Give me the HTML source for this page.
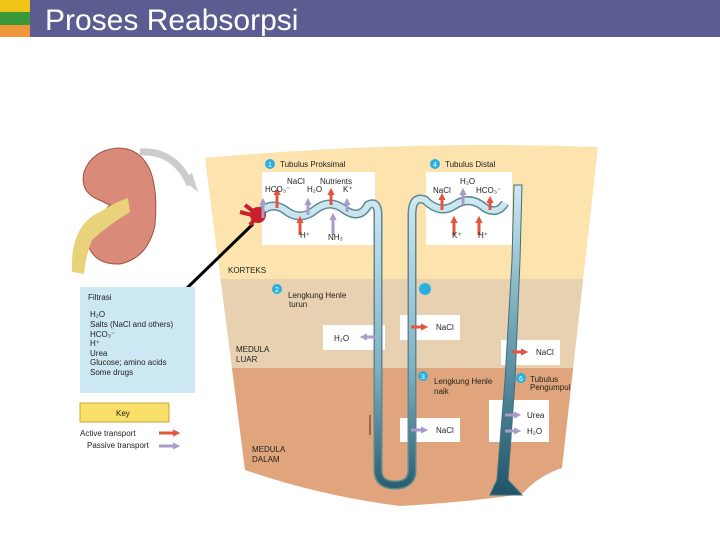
<!DOCTYPE html>
<html><head><meta charset="utf-8"><style>
body{margin:0;width:720px;height:540px;overflow:hidden;background:#fff;font-family:"Liberation Sans",sans-serif}
</style></head><body>
<svg width="720" height="540" viewBox="0 0 720 540" xmlns="http://www.w3.org/2000/svg" font-family="Liberation Sans, sans-serif">
<rect x="0" y="0" width="30" height="12" fill="#f0c419"/>
<rect x="0" y="12" width="30" height="13" fill="#3a9a3a"/>
<rect x="0" y="25" width="30" height="12" fill="#f0963a"/>
<rect x="30" y="0" width="690" height="37" fill="#5b5c8f"/>
<text x="45" y="30" font-size="30" fill="#fff">Proses Reabsorpsi</text>

<defs>
<clipPath id="c"><path d="M205,158 Q400,140 598,147 L562,468 Q538,476 522,494 Q470,502 400,506 Q320,496 245,470 Z"/></clipPath>
<linearGradient id="cd" x1="0" y1="0" x2="0" y2="1"><stop offset="0" stop-color="#cfe8f0"/><stop offset="0.5" stop-color="#6a9fb0"/><stop offset="1" stop-color="#1f5468"/></linearGradient>
<linearGradient id="lp" x1="0" y1="0" x2="0" y2="1"><stop offset="0" stop-color="#cfe8f0"/><stop offset="0.6" stop-color="#7fb0c0"/><stop offset="1" stop-color="#2c6070"/></linearGradient>
<marker id="r" markerWidth="2.4" markerHeight="2.4" refX="1" refY="1.2" orient="auto" markerUnits="strokeWidth"><path d="M0,0 L2.4,1.2 L0,2.4Z" fill="#e2553f"/></marker>
<marker id="p" markerWidth="2.4" markerHeight="2.4" refX="1" refY="1.2" orient="auto" markerUnits="strokeWidth"><path d="M0,0 L2.4,1.2 L0,2.4Z" fill="#a99cc8"/></marker>
</defs>
<g clip-path="url(#c)">
<rect x="200" y="140" width="400" height="139" fill="#fde3ad"/>
<rect x="200" y="279" width="400" height="89" fill="#e8d1b0"/>
<rect x="200" y="368" width="400" height="150" fill="#e0a57c"/>
</g>
<!-- kidney -->
<path d="M118,148 Q92,150 84,172 Q80,190 95,198 L110,205 Q88,225 88,245 Q95,265 120,264 Q148,258 155,225 Q158,190 150,170 Q140,148 118,148Z" fill="#d98a78" stroke="#a04f40"/>
<path d="M72,272 Q70,225 100,212 Q115,202 128,198 L130,212 Q108,225 92,240 Q86,255 84,274Z" fill="#e8d27a"/>
<path d="M140,152 Q175,150 190,185" stroke="#ccc" stroke-width="7" fill="none"/>
<path d="M183,180 L198,192 L192,173Z" fill="#ccc"/>
<line x1="253" y1="224" x2="185" y2="290" stroke="#000" stroke-width="3"/>
<!-- white boxes -->
<g fill="#fff">
<rect x="262" y="172" width="113" height="73"/>
<rect x="426" y="172" width="86" height="73"/>
<rect x="323" y="325" width="62" height="25"/>
<rect x="400" y="315" width="60" height="25"/>
<rect x="501" y="340" width="59" height="25"/>
<rect x="489" y="400" width="60" height="42"/>
<rect x="400" y="418" width="60" height="24"/>
</g>
<!-- tubules -->
<path d="M258,215 Q270,200 285,210 Q300,222 315,210 Q330,198 345,210 Q360,220 368,205 Q378,200 378,215 L378,470 Q378,485 395,485 Q412,485 412,470 L412,215 Q412,195 425,200 Q440,215 455,205 Q470,195 485,208 Q498,215 505,203" stroke="#5a8898" stroke-width="9" fill="none"/>
<path d="M258,215 Q270,200 285,210 Q300,222 315,210 Q330,198 345,210 Q360,220 368,205 Q378,200 378,215 L378,470 Q378,485 395,485 Q412,485 412,470 L412,215 Q412,195 425,200 Q440,215 455,205 Q470,195 485,208 Q498,215 505,203" stroke="url(#lp)" stroke-width="6" fill="none"/>
<path d="M514,185 L522,185 L520,260 L515,380 L508,480 L522,495 L490,495 L497,480 L505,380 L512,260Z" fill="url(#cd)" stroke="#3f6f80" stroke-width="1"/>
<circle cx="258" cy="215" r="8" fill="#c8202a"/>
<path d="M245,205 L258,215 L250,225 M240,212 L256,216" stroke="#c8202a" stroke-width="4" fill="none"/>
<!-- arrows -->
<g stroke-width="3">
<g stroke="#e2553f" marker-end="url(#r)">
<line x1="277" y1="208" x2="277" y2="192"/><line x1="331" y1="205" x2="331" y2="192"/>
<line x1="300" y1="235" x2="300" y2="220"/>
<line x1="442" y1="210" x2="442" y2="197"/><line x1="454" y1="235" x2="454" y2="220"/>
<line x1="479" y1="235" x2="479" y2="220"/><line x1="490" y1="210" x2="490" y2="200"/>
<line x1="411" y1="327" x2="424" y2="327"/>
<line x1="512" y1="352" x2="524" y2="352"/>
</g>
<g stroke="#a99cc8" marker-end="url(#p)">
<line x1="263" y1="218" x2="263" y2="202"/><line x1="308" y1="215" x2="308" y2="202"/>
<line x1="347" y1="212" x2="347" y2="202"/><line x1="333" y1="235" x2="333" y2="217"/>
<line x1="463" y1="205" x2="463" y2="192"/>
<line x1="375" y1="337" x2="364" y2="337"/>
<line x1="411" y1="430" x2="424" y2="430"/>
<line x1="505" y1="415" x2="517" y2="415"/><line x1="505" y1="431" x2="517" y2="431"/>
</g>
<line x1="370" y1="415" x2="370" y2="435" stroke="#5a2a1a" stroke-width="1"/>
</g>
<g font-size="8" fill="#222">
<text x="280" y="167">Tubulus Proksimal</text><text x="445" y="167">Tubulus Distal</text>
<text x="287" y="184">NaCl</text><text x="320" y="184">Nutrients</text>
<text x="265" y="192">HCO₃⁻</text><text x="307" y="192">H₂O</text><text x="343" y="192">K⁺</text>
<text x="300" y="238">H⁺</text><text x="328" y="240">NH₃</text>
<text x="460" y="184">H₂O</text><text x="433" y="193">NaCl</text><text x="476" y="193">HCO₃⁻</text>
<text x="452" y="238">K⁺</text><text x="478" y="238">H⁺</text>
<text x="228" y="273">KORTEKS</text>
<text x="288" y="298">Lengkung Henle</text><text x="289" y="307">turun</text>
<text x="334" y="341">H₂O</text><text x="436" y="330">NaCl</text><text x="536" y="355">NaCl</text>
<text x="236" y="352">MEDULA</text><text x="236" y="362">LUAR</text>
<text x="434" y="384">Lengkung Henle</text><text x="434" y="394">naik</text>
<text x="530" y="382">Tubulus</text><text x="530" y="390">Pengumpul</text>
<text x="527" y="418">Urea</text><text x="527" y="434">H₂O</text><text x="436" y="433">NaCl</text>
<text x="252" y="452">MEDULA</text><text x="252" y="462">DALAM</text>
</g>
<g fill="#2ab0e0"><circle cx="270" cy="164" r="5"/><circle cx="435" cy="164" r="5"/><circle cx="277" cy="289" r="5"/><circle cx="425" cy="289" r="6"/><circle cx="423" cy="376" r="5"/><circle cx="521" cy="378" r="5"/></g>
<g font-size="7" fill="#fff"><text x="268" y="167">1</text><text x="433" y="167">4</text><text x="275" y="292">2</text><text x="421" y="379">3</text><text x="519" y="381">6</text></g>
<!-- filtrasi -->
<rect x="80" y="287" width="115" height="106" fill="#cce8f2"/>
<g font-size="8" fill="#222"><text x="88" y="300">Filtrasi</text>
<text x="90" y="317">H₂O</text><text x="90" y="327">Salts (NaCl and others)</text><text x="90" y="337">HCO₃⁻</text><text x="90" y="346">H⁺</text><text x="90" y="356">Urea</text><text x="90" y="365">Glucose; amino acids</text><text x="90" y="375">Some drugs</text></g>
<rect x="80" y="403" width="89" height="19" fill="#f8e06a" stroke="#c9a93a"/>
<text x="116" y="416" font-size="8" fill="#222">Key</text>
<text x="80" y="436" font-size="8" fill="#222">Active transport</text>
<text x="87" y="448" font-size="8" fill="#222">Passive transport</text>
<line x1="159" y1="433" x2="176" y2="433" stroke="#e2553f" stroke-width="3" marker-end="url(#r)"/>
<line x1="159" y1="446" x2="176" y2="446" stroke="#a99cc8" stroke-width="3" marker-end="url(#p)"/>
</svg>
</body></html>
